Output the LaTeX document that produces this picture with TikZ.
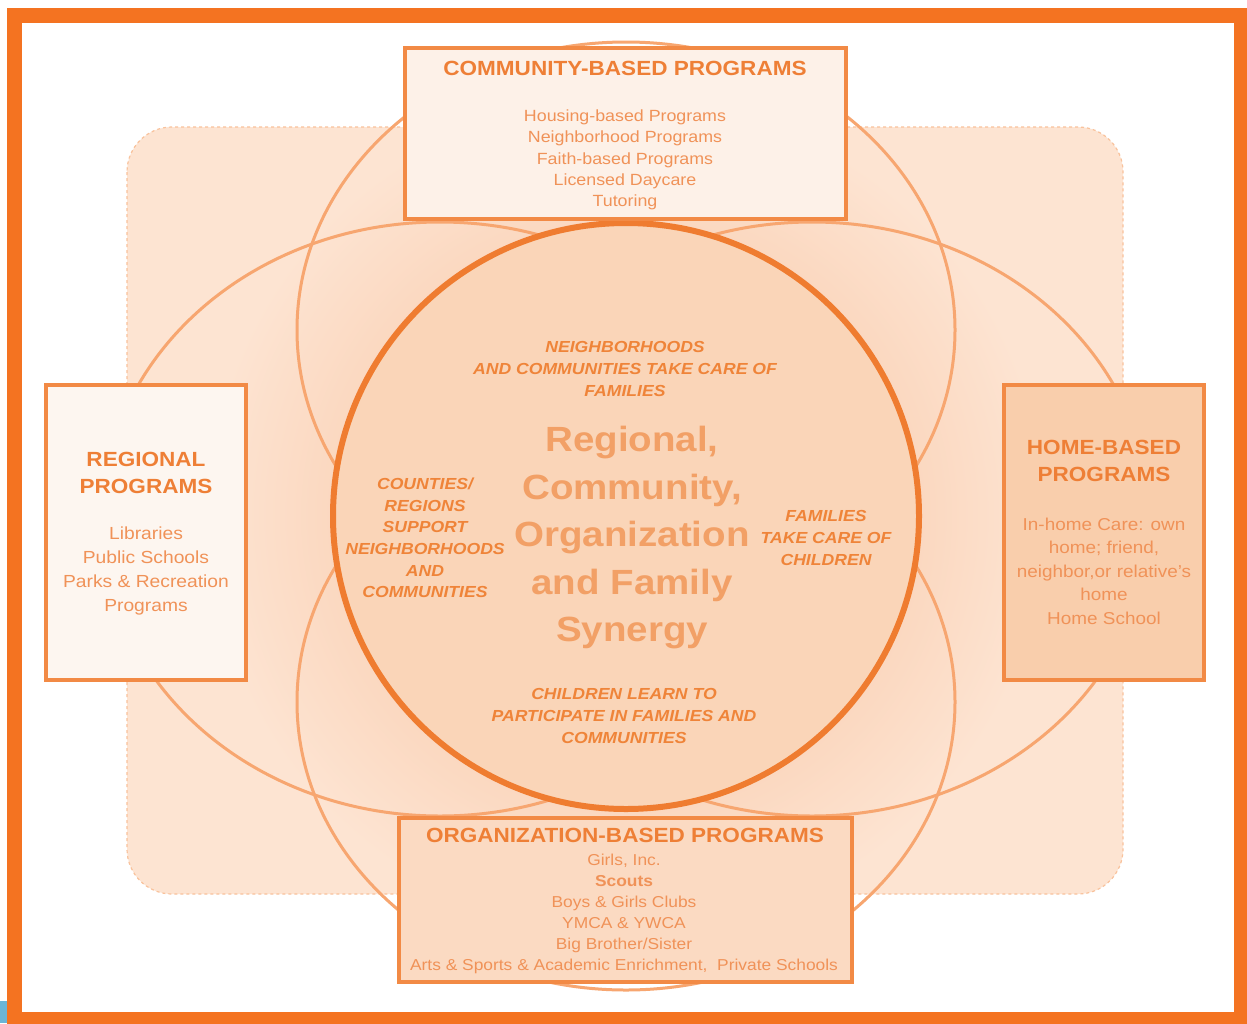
\documentclass[tikz,border=0pt]{standalone}
\usepackage{fontspec}
\setmainfont[FakeStretch=1.1]{Liberation Sans}
\definecolor{framec}{HTML}{F47321}
\definecolor{bgfill}{HTML}{FDE4D2}
\definecolor{halofill}{HTML}{FBD8C0}
\definecolor{bgdraw}{HTML}{F9C29C}
\definecolor{ellc}{HTML}{F7A670}
\definecolor{corefill}{HTML}{FAD5B8}
\definecolor{corec}{HTML}{EF7C30}
\definecolor{boxc}{HTML}{F28A45}
\definecolor{commfill}{HTML}{FDF1E8}
\definecolor{regfill}{HTML}{FDF6F0}
\definecolor{homefill}{HTML}{F9CEAC}
\definecolor{orgfill}{HTML}{FBDAC2}
\definecolor{titlec}{HTML}{EE7F36}
\definecolor{bodyc}{HTML}{F09258}
\definecolor{bigc}{HTML}{F2A066}
\definecolor{labc}{HTML}{EF8439}
\definecolor{bluebit}{HTML}{6BB5D6}
\pgfdeclareradialshading{halo}{\pgfpoint{0bp}{0bp}}{color(0bp)=(halofill); color(17.5bp)=(halofill); color(25bp)=(bgfill); color(50bp)=(bgfill)}
\tikzset{
  progbox/.style={draw=boxc, line width=4, inner sep=0},
  ringline/.style={draw=ellc, line width=3},
  titletext/.style={text=titlec, align=center, inner sep=0, font=\fontsize{20.5}{27}\selectfont\bfseries},
  bodytext/.style={text=bodyc, align=center, inner sep=0},
  labtext/.style={text=labc, align=center, inner sep=0, font=\fontsize{16}{21.7}\selectfont\bfseries\itshape},
  bigtext/.style={text=bigc, align=center, inner sep=0, font=\fontsize{35}{47.5}\selectfont\bfseries},
}
\begin{document}
\begin{tikzpicture}[x=1pt,y=-1pt]
\useasboundingbox (0,0) rectangle (1247,1023);
\fill[white] (0,0) rectangle (1247,1023);
% background rounded panel
\draw[fill=bgfill, draw=bgdraw, line width=1.2, dashed, rounded corners=45] (127,127) rectangle (1123,894);
\begin{scope}
  \clip[rounded corners=45] (128,128) rectangle (1122,893);
  \shade[shading=halo] (626,516) circle [radius=420];
\end{scope}
% four overlapping ellipses
\draw[ringline] (626,330) ellipse [x radius=329, y radius=288];
\draw[ringline] (626,702) ellipse [x radius=329, y radius=288];
\draw[ringline] (440,519) ellipse [x radius=338, y radius=297];
\draw[ringline] (812,519) ellipse [x radius=338, y radius=297];
% central circle
\node[circle, draw=corec, fill=corefill, line width=6, minimum size=586, inner sep=0] (core) at (626,516) {};
% boxes
\node[progbox, fill=commfill, minimum width=441, minimum height=171] (comm) at (625.5,133.5) {};
\node[progbox, fill=regfill, minimum width=200, minimum height=295] (reg) at (146,532.5) {};
\node[progbox, fill=homefill, minimum width=200, minimum height=295] (home) at (1104,532.5) {};
\node[progbox, fill=orgfill, minimum width=453, minimum height=164] (org) at (625.5,900) {};
% box texts
\node[titletext] (commtitle) at (625,68) {COMMUNITY-BASED PROGRAMS};
\node[bodytext, font=\fontsize{16.2}{21.2}\selectfont] (commbody) at (625,160) {Housing-based Programs\\Neighborhood Programs\\Faith-based Programs\\Licensed Daycare\\Tutoring};
\node[titletext] (regtitle) at (146,472.5) {REGIONAL\\PROGRAMS};
\node[bodytext, font=\fontsize{17.5}{23.7}\selectfont] (regbody) at (146,571) {Libraries\\Public Schools\\Parks \& Recreation\\Programs};
\node[titletext] (hometitle) at (1104,460.5) {HOME-BASED\\PROGRAMS};
\node[bodytext, font=\fontsize{17.2}{23.5}\selectfont] (homebody) at (1104,571) {In-home Care: own\\home; friend,\\neighbor,or relative's\\home\\Home School};
\node[titletext] (orgtitle) at (625,835) {ORGANIZATION-BASED PROGRAMS};
\node[bodytext, font=\fontsize{15.8}{21}\selectfont] (orgbody) at (624,913.5) {Girls, Inc.\\\textbf{Scouts}\\Boys \& Girls Clubs\\YMCA \& YWCA\\Big Brother/Sister\\Arts \& Sports \& Academic Enrichment,\ \ Private Schools};
% circle texts
\node[labtext] (labtop) at (625,369) {NEIGHBORHOODS\\AND COMMUNITIES TAKE CARE OF\\FAMILIES};
\node[labtext] (lableft) at (425,538) {COUNTIES/\\REGIONS\\SUPPORT\\NEIGHBORHOODS\\AND\\COMMUNITIES};
\node[labtext] (labright) at (826,538) {FAMILIES\\TAKE CARE OF\\CHILDREN};
\node[labtext] (labbot) at (624,716) {CHILDREN LEARN TO\\PARTICIPATE IN FAMILIES AND\\COMMUNITIES};
\node[bigtext] (centre) at (632,538) {Regional,\\Community,\\Organization\\and Family\\Synergy};
% outer frame
\draw[framec, line width=15] (14.5,15.5) rectangle (1241,1019);
\fill[bluebit] (0,1001) rectangle (7,1023);
\end{tikzpicture}
\end{document}
